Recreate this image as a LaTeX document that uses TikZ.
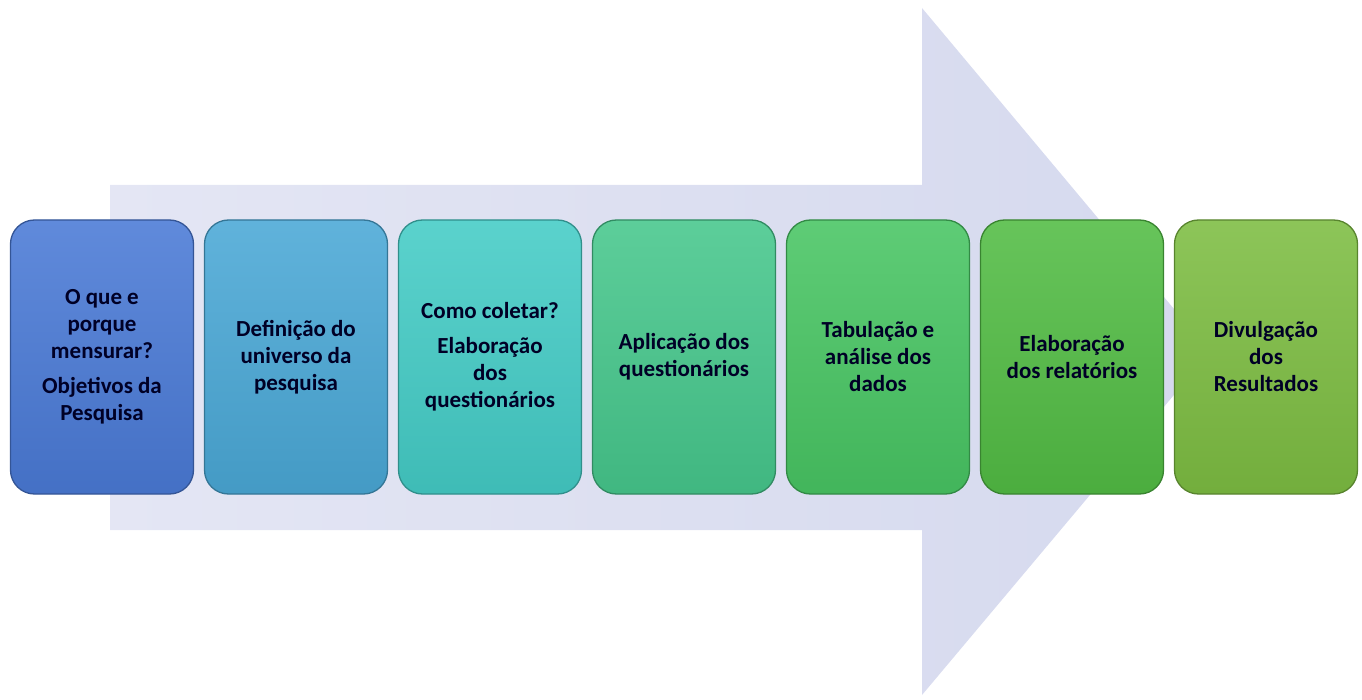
\documentclass[tikz,border=0pt]{standalone}
\usepackage{fontspec}
\setmainfont{Carlito}
\usetikzlibrary{positioning}

\definecolor{setaclara}{HTML}{E4E6F4}
\definecolor{setaescura}{HTML}{D5D9EE}
\definecolor{azul}{HTML}{4A7AD6}
\definecolor{celeste}{HTML}{4AA8D6}
\definecolor{turquesa}{HTML}{44CCC6}
\definecolor{verdeagua}{HTML}{46C78C}
\definecolor{verde}{HTML}{48C563}
\definecolor{verdevivo}{HTML}{52BC44}
\definecolor{verdelima}{HTML}{7DBD42}

\begin{document}
\begin{tikzpicture}[x=1pt,y=-1pt,
    etapa/.style={rounded corners=24pt, minimum width=183pt, minimum height=274pt,
        text width=172pt, inner sep=0pt, outer sep=0pt, align=center, line width=1.3pt,
        draw=#1!70!black, top color=#1!88!white, bottom color=#1!92!black,
        font=\bfseries\fontsize{23}{27}\selectfont, text=black!85!blue,
        execute at begin node={\spaceskip=0.22em\relax}},
    passo/.style={right=11pt of #1}]
    \useasboundingbox (0,0) rectangle (1362,700);
    % seta de fundo
    \shade[left color=setaclara, right color=setaescura]
        (110,185) -- (922,185) -- (922,8) -- (1210,352)
        -- (922,695) -- (922,530) -- (110,530) -- cycle;
    % etapas
    \node[etapa=azul] (objetivos) at (102,357) {O que e\\ porque\\ mensurar?\\[8pt] Objetivos da\\ Pesquisa};
    \node[etapa=celeste, passo=objetivos] (universo) {Defini\c{c}\~ao do\\ universo da\\ pesquisa};
    \node[etapa=turquesa, passo=universo] (coleta) {Como coletar?\\[8pt] Elabora\c{c}\~ao\\ dos\\ question\'arios};
    \node[etapa=verdeagua, passo=coleta] (aplicacao) {Aplica\c{c}\~ao dos\\ question\'arios};
    \node[etapa=verde, passo=aplicacao] (tabulacao) {Tabula\c{c}\~ao e\\ an\'alise dos\\ dados};
    \node[etapa=verdevivo, passo=tabulacao] (relatorios) {Elabora\c{c}\~ao\\ dos relat\'orios};
    \node[etapa=verdelima, passo=relatorios] (divulgacao) {Divulga\c{c}\~ao\\ dos\\ Resultados};
\end{tikzpicture}
\end{document}
